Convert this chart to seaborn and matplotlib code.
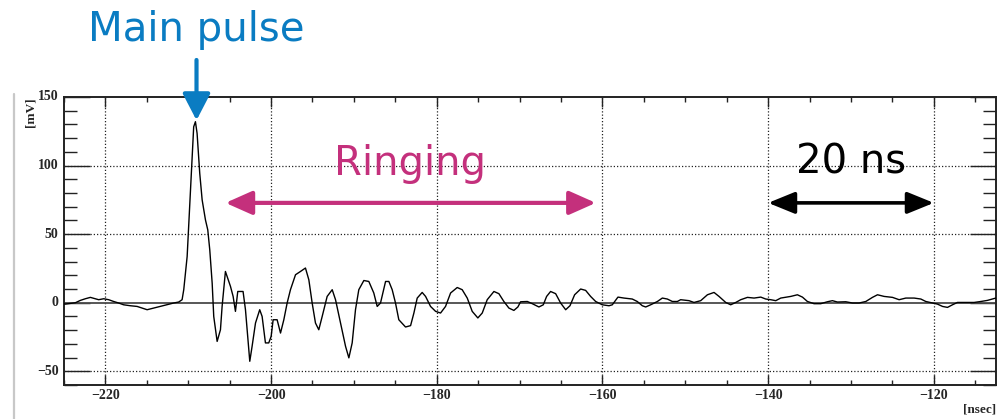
import numpy as np
import pandas as pd
import matplotlib
matplotlib.use("Agg")
import matplotlib.pyplot as plt
from matplotlib.lines import Line2D
from matplotlib.ticker import MultipleLocator
import seaborn as sns

# ---- data (time in ns, amplitude in mV) ----
time_ns = [
    -225.0, -224.83, -223.62, -223.02, -222.42, -221.81, -221.21, -220.81, -220.2, -219.6,
    -219.0, -218.4, -217.8, -216.98, -216.17, -215.57, -214.96, -214.17, -213.36, -212.55,
    -211.75, -211.15, -210.74, -210.54, -210.13, -209.73, -209.34, -209.13, -208.93, -208.61,
    -208.32, -207.92, -207.64, -207.40, -207.11, -206.92, -206.51, -206.11, -205.91, -205.51,
    -204.90, -204.58, -204.30, -204.02, -203.38, -203.09, -202.89, -202.57, -202.29, -201.88,
    -201.37, -201.08, -200.68, -200.28, -199.99, -199.75, -199.27, -198.86, -198.46, -198.06,
    -197.66, -197.05, -196.45, -195.85, -195.44, -195.04, -194.64, -194.24, -193.83, -193.23,
    -192.62, -192.22, -191.62, -191.01, -190.61, -190.21, -189.81, -189.41, -188.80, -188.20,
    -187.60, -187.19, -186.79, -186.18, -185.78, -185.38, -184.98, -184.58, -183.77, -183.16,
    -182.76, -182.36, -181.76, -181.35, -180.75, -180.14, -179.54, -178.94, -178.33, -177.53,
    -176.93, -176.32, -175.72, -175.04, -174.51, -173.91, -173.10, -172.50, -171.90, -171.29,
    -170.69, -170.21, -169.88, -169.07, -168.47, -167.67, -167.14, -166.74, -166.26, -165.65,
    -165.05, -164.44, -163.92, -163.36, -162.63, -162.03, -161.43, -160.82, -160.02, -159.21,
    -158.81, -158.13, -157.40, -156.40, -155.80, -155.19, -154.78, -154.18, -153.37, -152.77,
    -152.17, -151.56, -150.96, -150.56, -149.55, -148.95, -148.14, -147.33, -146.53, -145.93,
    -145.12, -144.52, -143.91, -143.31, -142.50, -141.70, -140.89, -140.29, -139.69, -139.08,
    -138.48, -137.27, -136.47, -135.86, -135.26, -134.46, -133.65, -132.85, -132.24, -131.64,
    -130.63, -129.82, -129.02, -128.21, -127.41, -126.80, -126.00, -124.99, -124.19, -123.38,
    -122.38, -121.57, -120.97, -120.16, -119.56, -118.95, -118.35, -117.75, -117.15, -116.14,
    -115.14, -114.33, -113.53, -112.92, -112.52,
]
amplitude_mV = [
    -0.8, -1.0, 0.0, 1.7, 2.9, 3.9, 2.9, 2.2, 2.9, 2.2,
    0.9, -0.2, -1.5, -2.2, -2.7, -3.9, -5.1, -3.9, -2.7, -1.5,
    -0.2, 0.5, 2.2, 9.5, 33.7, 82.2, 128.3, 132.0, 123.5, 94.4,
    75.0, 60.4, 53.1, 38.6, 14.3, -10.0, -28.2, -19.7, -2.7, 22.8,
    11.9, 4.6, -6.3, 8.2, 8.2, -5.1, -19.7, -42.7, -31.8, -14.8,
    -5.1, -10.0, -29.3, -29.3, -24.5, -12.4, -12.4, -22.1, -12.4, -0.2,
    9.5, 20.4, 22.8, 25.3, 16.7, -0.2, -14.8, -19.7, -10.0, 4.6,
    9.5, 2.2, -14.8, -31.8, -40.2, -29.3, -5.1, 9.5, 16.2, 15.5,
    7.1, -2.7, -0.2, 15.5, 15.5, 9.5, -0.2, -12.4, -17.7, -16.7,
    -7.5, 3.4, 7.5, 4.6, -2.7, -6.3, -7.5, -2.7, 7.1, 11.1,
    9.5, 3.4, -6.3, -11.1, -7.5, 2.2, 8.2, 6.6, 0.9, -3.9,
    -5.6, -3.1, 0.7, 0.9, -0.7, -3.1, -1.5, 4.6, 8.2, 6.6,
    -0.2, -5.1, -2.2, 5.8, 10.0, 9.0, 4.6, 0.9, -1.5, -2.2,
    -1.5, 4.1, 3.4, 2.7, 0.9, -2.2, -3.1, -1.5, 0.9, 3.4,
    2.7, 0.9, 0.9, 2.2, 1.5, 0.2, 1.5, 5.8, 7.5, 4.6,
    0.2, -1.5, 0.2, 2.2, 3.9, 3.4, 4.1, 2.7, 2.2, 1.5,
    3.4, 4.6, 5.8, 4.1, 0.9, -0.7, -0.7, 0.7, 1.5, 0.5,
    0.7, -0.2, -0.2, 0.9, 3.9, 5.8, 4.6, 3.9, 2.2, 3.4,
    3.4, 2.7, 0.9, -0.2, -1.0, -2.7, -3.4, -1.5, 0.2, 0.2,
    0.2, 0.9, 1.7, 2.7, 3.4,
]
x_ticks = [-220, -200, -180, -160, -140, -120]
y_ticks = [-50, 0, 50, 100, 150]
x_label = "[nsec]"
y_label = "[mV]"

df = pd.DataFrame({"t": time_ns, "v": amplitude_mV})

sns.set_theme(style="white")
plt.rcParams["font.family"] = ["DejaVu Sans"]

fig = plt.figure(figsize=(10.04, 4.19), dpi=100)
fig.patch.set_facecolor("white")
ax = fig.add_axes([0.0637, 0.0811, 0.9283, 0.6874])
ax.set_facecolor("white")

# grid (dotted) and zero line
for xv in x_ticks:
    ax.axvline(xv, color="#222222", lw=0.9, ls=(0, (1, 1.6)), zorder=1)
for yv in y_ticks:
    if yv not in (0, 150):
        ax.axhline(yv, color="#222222", lw=0.9, ls=(0, (1, 1.6)), zorder=1)
ax.axhline(0, color="#4a4a4a", lw=1.3, zorder=2)

sns.lineplot(data=df, x="t", y="v", ax=ax, estimator=None, sort=False,
             color="black", lw=1.0, zorder=3)

ax.set_xlim(-225, -112.5)
ax.set_ylim(-60, 150)
ax.set_xticks(x_ticks)
ax.set_yticks(y_ticks)
ax.xaxis.set_minor_locator(MultipleLocator(5))
ax.yaxis.set_minor_locator(MultipleLocator(10))
ax.set_xlabel("")
ax.set_ylabel("")

for s in ax.spines.values():
    s.set_color("#222222")
    s.set_linewidth(1.4)

ax.tick_params(axis="x", which="major", direction="in", length=7.5, width=1.0,
               top=True, bottom=True, color="#222222", pad=3)
ax.tick_params(axis="x", which="minor", direction="in", length=3.8, width=1.0,
               top=True, bottom=True, color="#222222")
ax.tick_params(axis="y", which="major", direction="in", length=19, width=1.0,
               left=True, right=True, color="#222222", pad=4)
ax.tick_params(axis="y", which="minor", direction="in", length=9.5, width=1.0,
               left=True, right=True, color="#222222")

tick_font = dict(family="Liberation Serif", weight="bold", size=10)
ax.set_xticklabels([f"\u2212{abs(v)}" if v < 0 else str(v) for v in x_ticks], **tick_font)
ax.set_yticklabels([f"\u2212{abs(v)}" if v < 0 else str(v) for v in y_ticks], **tick_font)
for lab in ax.get_yticklabels():
    lab.set_verticalalignment("center")

label_font = dict(family="Liberation Serif", weight="bold", size=9.5)
fig.text(0.9925, 0.008, x_label, ha="right", va="bottom", **label_font)
fig.text(0.030, 0.768, y_label, ha="center", va="top", rotation=90, **label_font)

# left gray slide line
fig.add_artist(Line2D([14 / 1004, 14 / 1004], [0.0, 1 - 94 / 419],
                      transform=fig.transFigure, color="#c8c8c8", lw=1.6))

blue = "#0a7cc2"
magenta = "#c4307c"

# Main pulse
ax.text(-209.0, 191, "Main pulse", color=blue, fontsize=29, ha="center",
        va="baseline", clip_on=False, family="DejaVu Sans")
ax.annotate("", xy=(-209.0, 133), xytext=(-209.0, 177), annotation_clip=False,
            arrowprops=dict(arrowstyle="-|>,head_length=1.35,head_width=0.7",
                            color=blue, lw=3, shrinkA=0, shrinkB=0))

# Ringing
ax.text(-183.2, 93, "Ringing", color=magenta, fontsize=29, ha="center",
        va="baseline", family="DejaVu Sans")
ax.annotate("", xy=(-160.8, 72.8), xytext=(-205.5, 72.8),
            arrowprops=dict(arrowstyle="<|-|>,head_length=1.35,head_width=0.6",
                            color=magenta, lw=3, shrinkA=0, shrinkB=0))

# 20 ns
ax.text(-130.0, 94.5, "20 ns", color="black", fontsize=29, ha="center",
        va="baseline", family="DejaVu Sans")
ax.annotate("", xy=(-120, 72.8), xytext=(-140, 72.8),
            arrowprops=dict(arrowstyle="<|-|>,head_length=1.35,head_width=0.55",
                            color="black", lw=2.6, shrinkA=0, shrinkB=0))

fig.savefig("out.png", dpi=100, facecolor="white")
